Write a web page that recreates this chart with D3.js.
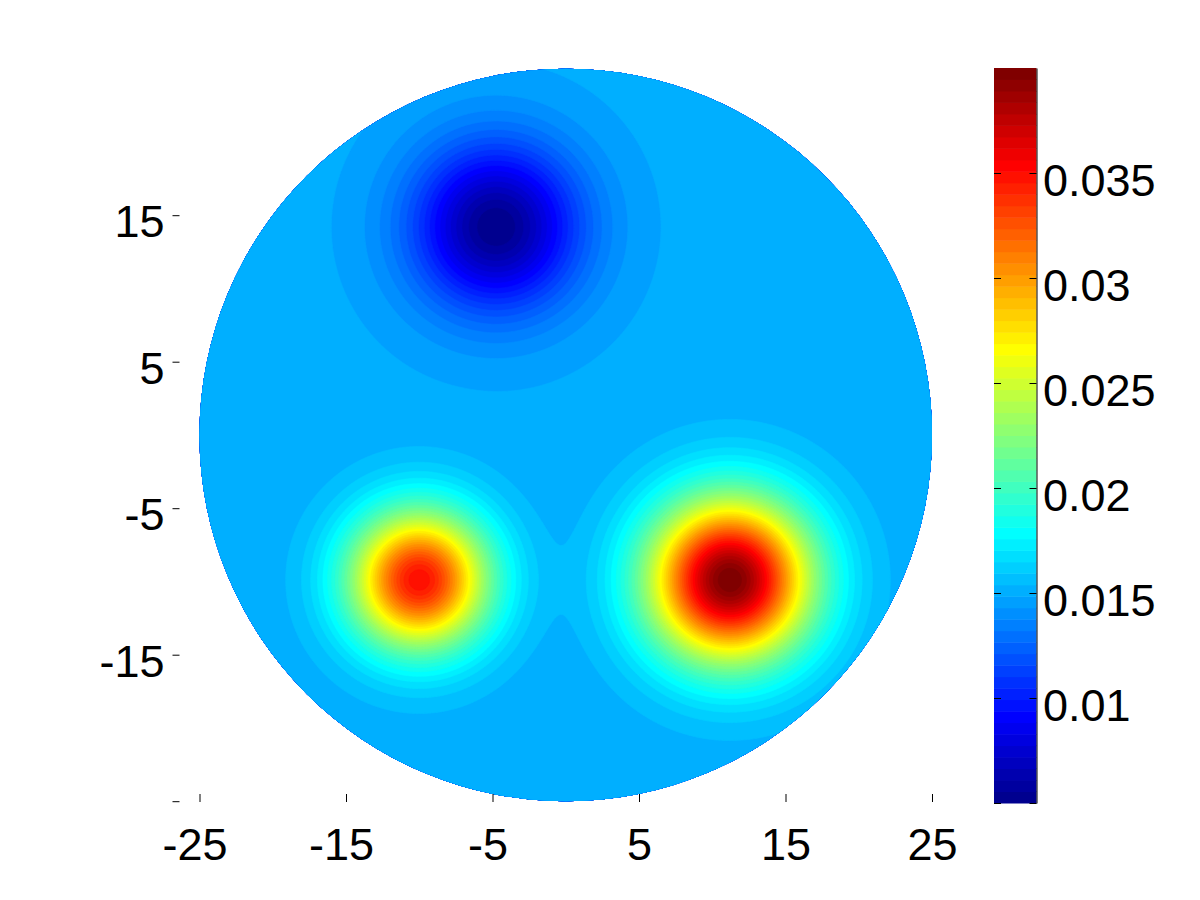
<!DOCTYPE html>
<html>
<head>
<meta charset="utf-8">
<script src="https://cdn.jsdelivr.net/npm/d3@7"></script>
<style>
  html, body { margin: 0; padding: 0; background: #fff; }
  svg { display: block; }
</style>
</head>
<body>
<svg id="chart" width="1200" height="900"></svg>
<script>
// field = flat level + three gaussian bumps
const baseLevel = 0.0150;
const bumpX = [-4.75, -10.0, 11.2];
const bumpY = [14.2, -9.9, -9.9];
const bumpAmp = [-0.0100, 0.0200, 0.0250];
const bumpSigma = [3.9, 3.25, 3.8];

const diskRadius = 25;
const xTicks = [-25, -15, -5, 5, 15, 25];
const yTicks = [-25, -15, -5, 5, 15];
const yTickLabels = ['', '-15', '-5', '5', '15'];
const cbDomain = [0.005, 0.040];
const cbTicks = [0.005, 0.01, 0.015, 0.02, 0.025, 0.03, 0.035];
const cbTickLabels = ['', '0.01', '0.015', '0.02', '0.025', '0.03', '0.035'];
const nLevels = 64;

const FONT = '"Liberation Sans", Arial, Helvetica, sans-serif';

// MATLAB jet(64), i = 1..64
function jet(i) {
  const c = v => Math.max(0, Math.min(1, v));
  const r = c(Math.min((i - 24) / 16, (72 - i) / 16));
  const g = c(Math.min((i - 8) / 16, (56 - i) / 16));
  const b = c(Math.min((i + 8) / 16, (40 - i) / 16));
  return d3.rgb(r * 255, g * 255, b * 255).formatHex();
}

const svg = d3.select('#chart');

const x = d3.scaleLinear().domain([-25, 25]).range([199.5, 932]);
const y = d3.scaleLinear().domain([-25, 25]).range([801.2, 68.7]);

// sample the field on a grid
const n = 520;
const lo = -25.5, hi = 25.5;
const step = (hi - lo) / n;
const values = new Float64Array(n * n);
for (let j = 0; j < n; j++) {
  const yv = hi - (j + 0.5) * step;
  for (let i = 0; i < n; i++) {
    const xv = lo + (i + 0.5) * step;
    let v = baseLevel;
    for (let k = 0; k < bumpX.length; k++) {
      const dx = xv - bumpX[k], dy = yv - bumpY[k];
      v += bumpAmp[k] * Math.exp(-(dx * dx + dy * dy) / (2 * bumpSigma[k] * bumpSigma[k]));
    }
    values[j * n + i] = v;
  }
}

const levelStep = (cbDomain[1] - cbDomain[0]) / nLevels;
const thresholds = d3.range(1, nLevels).map(k => cbDomain[0] + k * levelStep);

const contours = d3.contours().size([n, n]).thresholds(thresholds)(values);

const gridToScreen = d3.geoTransform({
  point(px, py) {
    this.stream.point(x(lo + px * step), y(hi - py * step));
  }
});
const path = d3.geoPath(gridToScreen);

svg.append('clipPath').attr('id', 'disk')
  .append('circle')
  .attr('cx', x(0)).attr('cy', y(0))
  .attr('r', x(diskRadius) - x(0));

const field = svg.append('g').attr('clip-path', 'url(#disk)');

field.append('circle')
  .attr('cx', x(0)).attr('cy', y(0))
  .attr('r', x(diskRadius) - x(0))
  .attr('fill', jet(1));

field.selectAll('path')
  .data(contours)
  .enter()
  .append('path')
  .attr('d', path)
  .attr('fill', (d, i) => jet(i + 2))
  .attr('stroke', (d, i) => jet(i + 2))
  .attr('stroke-width', 0.6);

// axes (no axis lines, ticks only)
const xAxis = svg.append('g')
  .attr('transform', 'translate(0,802)')
  .call(d3.axisBottom(x).tickValues(xTicks).tickSize(-8).tickPadding(26)
    .tickFormat(d => String(d)));
xAxis.select('.domain').remove();

const yAxis = svg.append('g')
  .attr('transform', 'translate(172.5,0)')
  .call(d3.axisLeft(y).tickValues(yTicks).tickSize(-7).tickPadding(8)
    .tickFormat((d, i) => yTickLabels[i]));
yAxis.select('.domain').remove();

[xAxis, yAxis].forEach(g => {
  g.attr('font-family', FONT).attr('font-size', 45);
  g.selectAll('line').attr('stroke', '#000');
});
xAxis.selectAll('text').attr('dx', d => d < 0 ? -5 : 0);
yAxis.selectAll('text').attr('dy', '0.48em');

// colorbar
const cb = d3.scaleLinear().domain(cbDomain).range([803, 68]);
const cbX0 = 994, cbX1 = 1036.5;

svg.append('g')
  .selectAll('rect')
  .data(d3.range(nLevels))
  .enter()
  .append('rect')
  .attr('x', cbX0)
  .attr('width', cbX1 - cbX0)
  .attr('y', k => cb(cbDomain[0] + (k + 1) * levelStep))
  .attr('height', k => cb(cbDomain[0] + k * levelStep) - cb(cbDomain[0] + (k + 1) * levelStep) + 0.5)
  .attr('fill', k => jet(k + 1));

const cbRight = svg.append('g')
  .attr('transform', `translate(${cbX1},0)`)
  .call(d3.axisRight(cb).tickValues(cbTicks).tickSize(-7).tickSizeOuter(0).tickPadding(6.5)
    .tickFormat((d, i) => cbTickLabels[i]));
cbRight.attr('font-family', FONT).attr('font-size', 45);
cbRight.selectAll('line').attr('stroke', '#000');
cbRight.select('.domain').attr('stroke', '#000');
cbRight.selectAll('text').attr('dy', '0.49em');

const cbLeft = svg.append('g')
  .attr('transform', `translate(${cbX0},0)`)
  .call(d3.axisLeft(cb).tickValues(cbTicks).tickSize(-7).tickFormat(''));
cbLeft.select('.domain').remove();
cbLeft.selectAll('line').attr('stroke', '#000');
</script>
</body>
</html>
